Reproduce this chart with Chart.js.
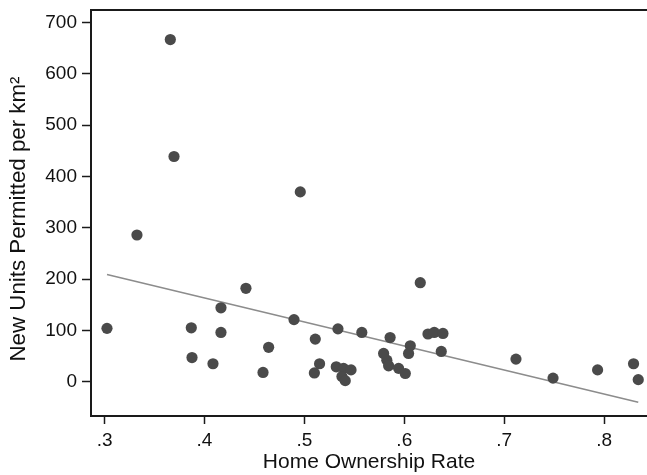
<!DOCTYPE html>
<html>
<head>
<meta charset="utf-8">
<script src="https://cdn.jsdelivr.net/npm/chart.js@4.4.1/dist/chart.umd.min.js"></script>
<style>
  html, body { margin: 0; padding: 0; background: #ffffff; overflow: hidden; }
  #wrap { width: 647px; height: 475px; }
</style>
</head>
<body>
<div id="wrap"><canvas id="c" width="647" height="475"></canvas></div>
<script>
// Home ownership rate (x) and new units permitted per km² (y)
const ownershipRate = [
  0.3024, 0.3324, 0.3658, 0.3695, 0.3868, 0.3875, 0.4085, 0.4165, 0.4165, 0.4415,
  0.4586, 0.4642, 0.4896, 0.4959, 0.5109, 0.5152, 0.5100, 0.5319, 0.5336, 0.5392,
  0.5467, 0.5376, 0.5409, 0.5575, 0.5793, 0.5825, 0.5843, 0.5858, 0.5943, 0.6010,
  0.6060, 0.6043, 0.6160, 0.6237, 0.6300, 0.6387, 0.6370, 0.7118, 0.7489, 0.7935,
  0.8295, 0.8342
];
const unitsPerKm2 = [
  104, 286, 667, 439, 105, 47, 35, 144, 96, 182,
  18, 67, 121, 370, 83, 35, 17, 29, 103, 26,
  23, 10, 2, 96, 55, 42, 31, 86, 26, 16,
  70, 55, 193, 93, 96, 94, 59, 44, 7, 23,
  35, 4
];

// Linear fit endpoints
const fitX = [0.3024, 0.8342];
const fitY = [209, -40];

// Axis ticks
const xTicks = [0.3, 0.4, 0.5, 0.6, 0.7, 0.8];
const yTicks = [0, 100, 200, 300, 400, 500, 600, 700];

const yTitle = 'New Units Permitted per km²';

const points = ownershipRate.map((x, i) => ({ x: x, y: unitsPerKm2[i] }));
const fitLine = fitX.map((x, i) => ({ x: x, y: fitY[i] }));

const FONT = '"Liberation Sans", Arial, Helvetica, sans-serif';
const X_MIN = 0.2864;
const X_PX_PER_UNIT = 999; // horizontal scale: pixels per 1.0 of ownership rate

// Top and bottom frame lines across the plot region, plus the rotated y-axis title
const frameAndTitle = {
  id: 'frameAndTitle',
  afterDraw(chart) {
    const { ctx, chartArea } = chart;
    ctx.save();
    ctx.strokeStyle = '#1a1a1a';
    ctx.lineWidth = 2;
    ctx.beginPath();
    ctx.moveTo(chartArea.left - 1, chartArea.top);
    ctx.lineTo(chart.width, chartArea.top);
    ctx.moveTo(chartArea.left - 1, chartArea.bottom);
    ctx.lineTo(chart.width, chartArea.bottom);
    ctx.stroke();

    ctx.translate(19, (chartArea.top + chartArea.bottom) / 2 + 6);
    ctx.rotate(-Math.PI / 2);
    ctx.fillStyle = '#111';
    ctx.font = '22.3px ' + FONT;
    ctx.textAlign = 'center';
    ctx.textBaseline = 'middle';
    ctx.fillText(yTitle, 0, 0);
    ctx.restore();
  }
};

const chart = new Chart(document.getElementById('c'), {
  type: 'scatter',
  data: {
    datasets: [
      {
        label: 'Fitted values',
        type: 'line',
        data: fitLine,
        borderColor: '#8c8c8c',
        borderWidth: 1.6,
        pointRadius: 0,
        pointHoverRadius: 0,
        fill: false,
        clip: false,
        order: 2
      },
      {
        label: 'New units',
        data: points,
        backgroundColor: '#4a4a4a',
        borderColor: '#4a4a4a',
        borderWidth: 0,
        pointRadius: 5.6,
        clip: false,
        order: 1
      }
    ]
  },
  options: {
    responsive: false,
    animation: false,
    devicePixelRatio: 1,
    layout: { autoPadding: false, padding: { top: 10, right: 0, left: 0, bottom: 0 } },
    plugins: {
      legend: { display: false },
      tooltip: { enabled: false }
    },
    scales: {
      x: {
        type: 'linear',
        min: X_MIN,
        max: 0.843,
        afterBuildTicks: (s) => { s.ticks = xTicks.map(v => ({ value: v })); },
        afterFit: (s) => { s.height = 59; s.paddingLeft = 0; s.paddingRight = 0; },
        border: { display: true, color: '#1a1a1a', width: 2 },
        grid: { drawOnChartArea: false, drawTicks: true, tickLength: 8, tickColor: '#1a1a1a', tickWidth: 1.5 },
        ticks: {
          color: '#111',
          font: { family: FONT, size: 19 },
          padding: 5,
          maxRotation: 0,
          autoSkip: false,
          callback: (v) => String(Math.round(v * 10) / 10).replace(/^0/, '')
        },
        title: {
          display: true,
          text: 'Home Ownership Rate',
          color: '#111',
          font: { family: FONT, size: 21 },
          padding: { top: 0, bottom: 0 }
        }
      },
      y: {
        type: 'linear',
        min: -66.9,
        max: 724.6,
        afterBuildTicks: (s) => { s.ticks = yTicks.map(v => ({ value: v })); },
        afterFit: (s) => { s.width = 91; s.paddingTop = 0; s.paddingBottom = 0; },
        border: { display: true, color: '#1a1a1a', width: 2 },
        grid: { drawOnChartArea: false, drawTicks: true, tickLength: 9, tickColor: '#1a1a1a', tickWidth: 1.5 },
        ticks: {
          color: '#111',
          font: { family: FONT, size: 19 },
          padding: 5,
          autoSkip: false,
          callback: (v) => String(v)
        },
        title: { display: false }
      }
    }
  },
  plugins: [frameAndTitle]
});

// The plot region runs off the right edge; keep a fixed horizontal scale
const area = chart.chartArea;
chart.options.scales.x.max = X_MIN + (area.right - area.left) / X_PX_PER_UNIT;
chart.update();
</script>
</body>
</html>
